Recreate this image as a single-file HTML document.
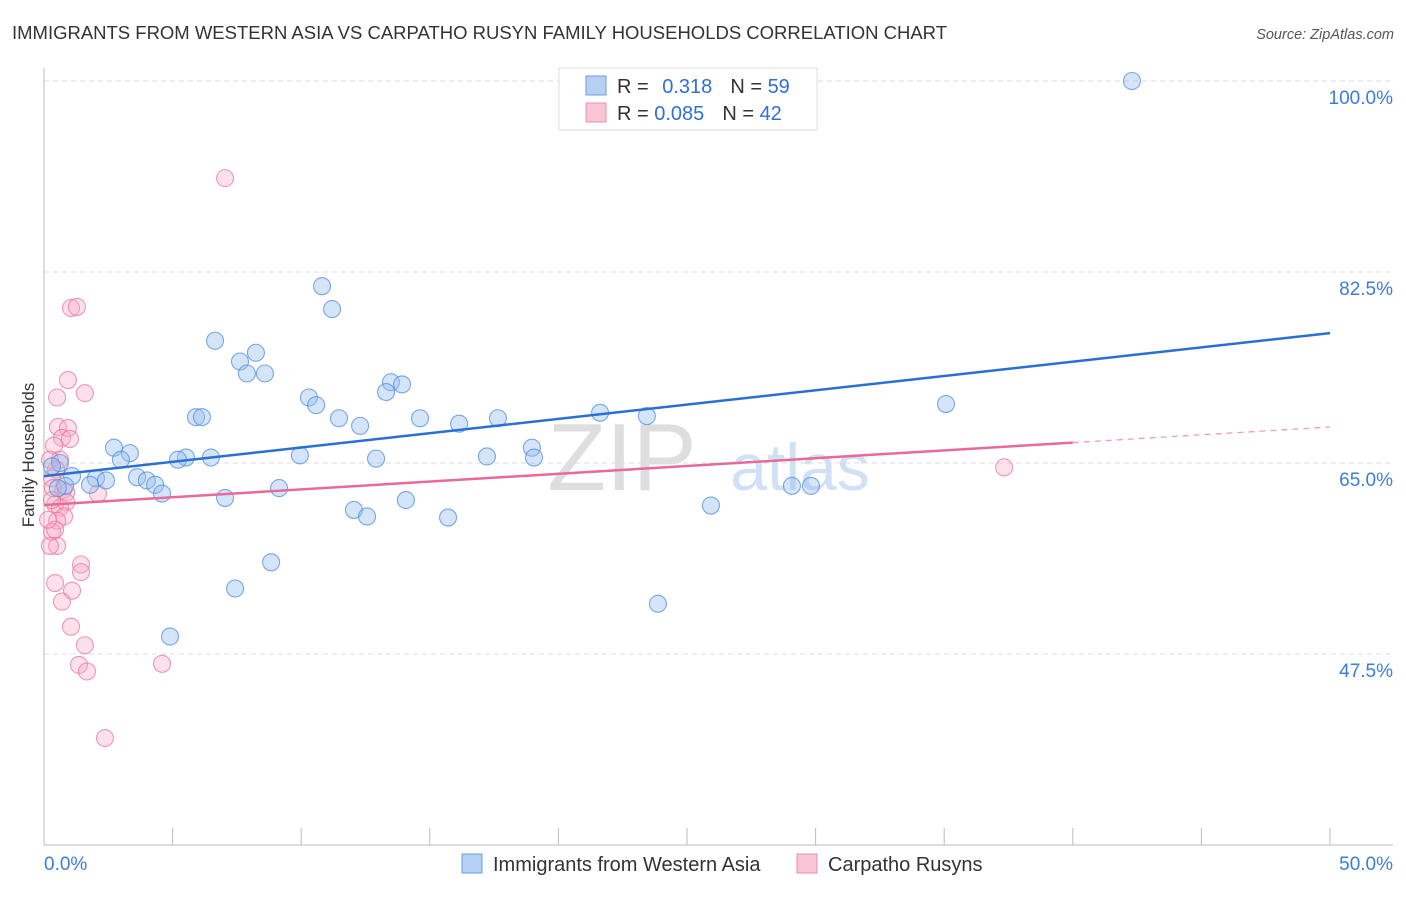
<!DOCTYPE html>
<html><head><meta charset="utf-8"><style>
body{margin:0;background:#fff;font-family:"Liberation Sans",sans-serif;}
svg text{font-family:"Liberation Sans",sans-serif;}
</style></head><body>
<svg id="c" width="1406" height="892">
<text x="12" y="39" font-size="18.5" fill="#333" textLength="935" lengthAdjust="spacingAndGlyphs">IMMIGRANTS FROM WESTERN ASIA VS CARPATHO RUSYN FAMILY HOUSEHOLDS CORRELATION CHART</text>
<text x="1394" y="39" font-size="14.5" fill="#555" font-style="italic" text-anchor="end">Source: ZipAtlas.com</text>
<text x="622" y="490" font-size="96" fill="#dedede" font-family="Liberation Serif" text-anchor="middle">ZIP</text>
<text x="800" y="490" font-size="66" fill="#d0e0f5" text-anchor="middle">atlas</text>
<g id="grid"></g>
<g id="axes"></g>
<g id="marks"></g>
<text transform="translate(34,455) rotate(-90)" font-size="17" fill="#333" text-anchor="middle">Family Households</text>
<g>
<rect x="559" y="68" width="258" height="62" fill="#fff" stroke="#ddd"/>
<rect x="586" y="76" width="20" height="19" fill="#b6d0f3" stroke="#6a9ee0"/>
<rect x="586" y="103" width="20" height="19" fill="#f8c6d4" stroke="#ec8fab"/>
<text x="617" y="93" font-size="20" fill="#333">R = <tspan fill="#2f6fd6" dx="8">0.318</tspan><tspan dx="18" fill="#333">N = </tspan><tspan fill="#2f6fd6">59</tspan></text>
<text x="617" y="120" font-size="20" fill="#333">R = <tspan fill="#2f6fd6">0.085</tspan><tspan dx="18" fill="#333">N = </tspan><tspan fill="#2f6fd6">42</tspan></text>
</g>
<g>
<rect x="462" y="854" width="20" height="19" fill="#b6d0f3" stroke="#6a9ee0"/>
<text x="493" y="871" font-size="20" fill="#333">Immigrants from Western Asia</text>
<rect x="797" y="854" width="20" height="19" fill="#f8c6d4" stroke="#ec8fab"/>
<text x="828" y="871" font-size="20" fill="#333">Carpatho Rusyns</text>
</g>
</svg>
<script>
const blueX=[42.3,10.81,11.2,6.65,8.24,7.62,7.89,8.59,13.49,13.92,13.3,10.3,10.58,5.91,6.14,11.47,14.62,17.65,21.62,23.44,35.07,12.29,16.14,2.72,3.34,2.99,5.52,5.21,6.49,9.95,12.91,17.22,18.97,19.05,0.62,1.09,2.02,2.41,3.62,4.0,4.32,4.59,7.04,9.14,0.82,1.79,0.54,14.07,12.05,12.56,15.71,25.93,29.08,29.82,8.83,7.43,23.87,4.9,0.31];
const blueY=[100.0,81.2,79.1,76.2,75.1,74.3,73.2,73.2,72.4,72.2,71.5,71.0,70.3,69.2,69.2,69.1,69.1,69.1,69.6,69.3,70.4,68.4,68.6,66.4,65.9,65.3,65.5,65.3,65.5,65.7,65.4,65.6,66.4,65.5,65.0,63.8,63.6,63.4,63.7,63.4,63.0,62.2,61.8,62.7,62.9,63.0,62.7,61.6,60.7,60.1,60.0,61.1,62.9,62.9,55.9,53.5,52.1,49.1,64.7];
const pinkX=[7.04,1.05,1.28,0.93,1.59,0.51,0.54,0.93,0.7,1.01,0.39,0.62,0.47,0.31,0.35,0.74,0.86,2.1,0.43,0.86,0.62,0.78,0.51,0.31,0.43,0.51,0.23,1.44,1.44,0.43,1.09,0.7,1.05,1.59,1.36,1.67,4.59,2.37,37.33,0.23,0.31,0.16];
const pinkY=[91.1,79.2,79.3,72.6,71.4,71.0,68.3,68.2,67.3,67.2,66.6,65.3,64.4,63.6,62.7,62.5,62.3,62.2,61.2,61.4,60.9,60.1,59.7,58.7,58.9,57.4,57.4,55.7,55.0,54.0,53.3,52.3,50.0,48.3,46.5,45.9,46.6,39.8,64.6,65.3,61.6,59.8];
const blueTrend=[63.8,76.9];   // y at x=0, x=50
const pinkTrend=[61.15,68.3];
const pinkSolidEnd=40;
const yTicks=[100,82.5,65,47.5];
const yTickLabels=["100.0%","82.5%","65.0%","47.5%"];
const xTicks=[0,5,10,15,20,25,30,35,40,45,50];
const xEndLabels=["0.0%","50.0%"];

const NS="http://www.w3.org/2000/svg";
const X=v=>44+v*25.72;
const Y=v=>81+(100-v)*10.914;
function mk(tag,attrs,parent){const e=document.createElementNS(NS,tag);for(const k in attrs)e.setAttribute(k,attrs[k]);parent.appendChild(e);return e;}
const grid=document.getElementById('grid'),axes=document.getElementById('axes'),marks=document.getElementById('marks');
yTicks.forEach((t,i)=>{
  const l=mk('line',{x1:44,x2:1393,y1:Y(t),y2:Y(t),stroke:'#ddd','stroke-dasharray':'5,4'},grid);
  
  
  const tx=mk('text',{x:1393,y:Y(t)+23,'font-size':19,fill:'#3b7ddd','text-anchor':'end'},grid);
  tx.textContent=yTickLabels[i];
  
  
});
const ax=mk('line',{x1:44,x2:44,y1:68,y2:845,stroke:'#bbb'},axes);


const bx=mk('line',{x1:44,x2:1393,y1:845,y2:845,stroke:'#bbb'},axes);


xTicks.forEach(t=>{
  const l=mk('line',{x1:X(t),x2:X(t),y1:828,y2:845,stroke:'#bbb'},axes);
  
  
});
[[0,'start'],[50,'end']].forEach((p,i)=>{
  const tx=mk('text',{x:i?1393:44,y:870,'font-size':19,fill:'#3b7ddd','text-anchor':p[1]},axes);
  tx.textContent=xEndLabels[i];
  
  
});
function pts(xs,ys,fill,stroke,name){
  xs.forEach((x,i)=>{
    const c=mk('circle',{cx:X(x),cy:Y(ys[i]),r:8.5,fill:fill,stroke:stroke,'stroke-width':1.1},marks);
    
    
  });
}
pts(pinkX,pinkY,'rgba(246,170,195,0.35)','rgba(232,120,155,0.75)','carpatho-point');
pts(blueX,blueY,'rgba(150,190,240,0.4)','rgba(80,140,220,0.75)','western-asia-point');
const tb=mk('line',{x1:X(0),y1:Y(blueTrend[0]),x2:X(50),y2:Y(blueTrend[1]),stroke:'#2a6fd6','stroke-width':2.5},marks);


const pY=x=>pinkTrend[0]+(pinkTrend[1]-pinkTrend[0])*x/50;
const tp=mk('line',{x1:X(0),y1:Y(pY(0)),x2:X(pinkSolidEnd),y2:Y(pY(pinkSolidEnd)),stroke:'#e8699a','stroke-width':2.5},marks);


const td=mk('line',{x1:X(pinkSolidEnd),y1:Y(pY(pinkSolidEnd)),x2:X(50),y2:Y(pY(50)),stroke:'#e8a0b8','stroke-width':1.3,'stroke-dasharray':'6,5'},marks);


</script>
</body></html>
